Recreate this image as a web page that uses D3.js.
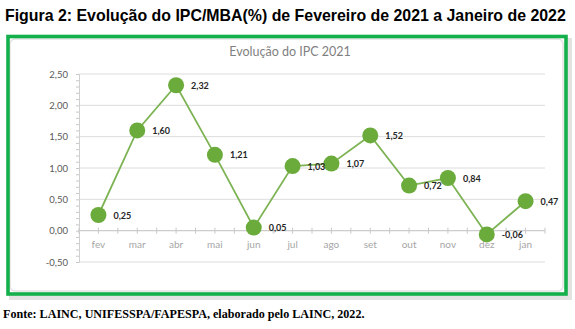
<!DOCTYPE html>
<html>
<head>
<meta charset="utf-8">
<script src="https://cdn.jsdelivr.net/npm/d3@7"></script>
<style>
  html, body { margin: 0; padding: 0; background: #fff; }
  svg { display: block; }
</style>
</head>
<body>
<svg id="chart" width="575" height="329"></svg>
<script>
// Monthly IPC/MBA (%) values
const months = ["fev", "mar", "abr", "mai", "jun", "jul", "ago", "set", "out", "nov", "dez", "jan"];
const ipc = [0.25, 1.60, 2.32, 1.21, 0.05, 1.03, 1.07, 1.52, 0.72, 0.84, -0.06, 0.47];
const yTicks = [-0.5, 0, 0.5, 1.0, 1.5, 2.0, 2.5];

const fmt = v => d3.format(".2f")(v).replace(".", ",").replace("−", "-");

const svg = d3.select("#chart");

// Figure heading
svg.append("text")
  .attr("x", 5).attr("y", 21)
  .attr("font-family", "Liberation Sans, Arial, sans-serif")
  .attr("font-weight", "bold").attr("font-size", 15.9)
  .attr("fill", "#000")
  .text("Figura 2: Evolução do IPC/MBA(%) de Fevereiro de 2021 a Janeiro de 2022");

// Drop shadow under the green frame
svg.append("rect")
  .attr("x", 9).attr("y", 38).attr("width", 563).attr("height", 262)
  .attr("fill", "#d0d0d0").attr("opacity", 0.6);

// Inner chart panel with soft grey edges
svg.append("rect")
  .attr("x", 8).attr("y", 37).attr("width", 558).attr("height", 257)
  .attr("fill", "#fff");
svg.append("rect")
  .attr("x", 10).attr("y", 39).attr("width", 553).attr("height", 252)
  .attr("rx", 5)
  .attr("fill", "#fff").attr("stroke", "#e2e2e2").attr("stroke-width", 1.5);

// Green frame
svg.append("rect")
  .attr("x", 8).attr("y", 36.5).attr("width", 558).attr("height", 257.5)
  .attr("fill", "none").attr("stroke", "#14b04c").attr("stroke-width", 3.6);

// Chart title
svg.append("text")
  .attr("x", 290).attr("y", 56)
  .attr("text-anchor", "middle")
  .attr("font-family", "Lato, 'Open Sans', sans-serif")
  .attr("font-size", 12.5).attr("fill", "#7f7f7f")
  .text("Evolução do IPC 2021");

const plotLeft = 79, plotRight = 545;
const x = d3.scaleBand().domain(months).range([plotLeft, plotRight]);
const y = d3.scaleLinear().domain([-0.5, 2.5]).range([262, 74]);

const g = svg.append("g");

// Horizontal gridlines
g.selectAll("line.grid").data(yTicks).enter().append("line")
  .attr("class", "grid")
  .attr("x1", plotLeft).attr("x2", plotRight)
  .attr("y1", d => y(d)).attr("y2", d => y(d))
  .attr("stroke", "#dcdcdc").attr("stroke-width", 1);

// Y axis with minor tick marks
const yAxis = d3.axisLeft(y).tickValues(d3.range(-0.5, 2.51, 0.1).map(v => +v.toFixed(1)))
  .tickSize(3).tickFormat("");
const ya = g.append("g").attr("transform", `translate(${plotLeft},0)`).call(yAxis);
ya.select(".domain").attr("stroke", "#d0d0d0");
ya.selectAll(".tick line").attr("stroke", "#c8c8c8");

// Y tick labels
g.selectAll("text.ylab").data(yTicks).enter().append("text")
  .attr("class", "ylab")
  .attr("x", 68).attr("y", d => y(d) + 3.5)
  .attr("text-anchor", "end")
  .attr("font-family", "Lato, 'Open Sans', sans-serif")
  .attr("font-size", 9.5).attr("fill", "#595959")
  .text(d => fmt(d));

// Zero baseline with half-band ticks
g.append("line")
  .attr("x1", plotLeft).attr("x2", plotRight)
  .attr("y1", y(0)).attr("y2", y(0))
  .attr("stroke", "#c8c8c8");
const halfTicks = d3.range(0, months.length * 2 + 1).map(i => plotLeft + i * x.bandwidth() / 2);
g.selectAll("line.xt").data(halfTicks).enter().append("line")
  .attr("class", "xt")
  .attr("x1", d => d).attr("x2", d => d)
  .attr("y1", y(0) - 3).attr("y2", y(0) + 3)
  .attr("stroke", "#c8c8c8");

// Month labels
g.selectAll("text.xlab").data(months).enter().append("text")
  .attr("class", "xlab")
  .attr("x", d => x(d) + x.bandwidth() / 2).attr("y", 248)
  .attr("text-anchor", "middle")
  .attr("font-family", "Lato, 'Open Sans', sans-serif")
  .attr("font-size", 10).attr("fill", "#a6a6a6")
  .text(d => d);

const pts = months.map((m, i) => ({ m, v: ipc[i] }));
const cx = d => x(d.m) + x.bandwidth() / 2;

// Series line
g.append("path")
  .datum(pts)
  .attr("fill", "none").attr("stroke", "#7db354").attr("stroke-width", 1.8)
  .attr("d", d3.line().x(cx).y(d => y(d.v)));

// Markers
g.selectAll("circle").data(pts).enter().append("circle")
  .attr("cx", cx).attr("cy", d => y(d.v)).attr("r", 8)
  .attr("fill", "#6aab3b");

// Value labels
g.selectAll("text.val").data(pts).enter().append("text")
  .attr("class", "val")
  .attr("x", d => cx(d) + 15).attr("y", d => y(d.v) + 3.5)
  .attr("font-family", "Lato, 'Open Sans', sans-serif")
  .attr("font-weight", "bold").attr("font-size", 9)
  .attr("fill", "#262626")
  .text(d => fmt(d.v));

// Source note
svg.append("text")
  .attr("x", 3).attr("y", 318)
  .attr("font-family", "Liberation Serif, 'Times New Roman', serif")
  .attr("font-weight", "bold").attr("font-size", 12.1)
  .attr("fill", "#000")
  .text("Fonte: LAINC, UNIFESSPA/FAPESPA, elaborado pelo LAINC, 2022.");
</script>
</body>
</html>
